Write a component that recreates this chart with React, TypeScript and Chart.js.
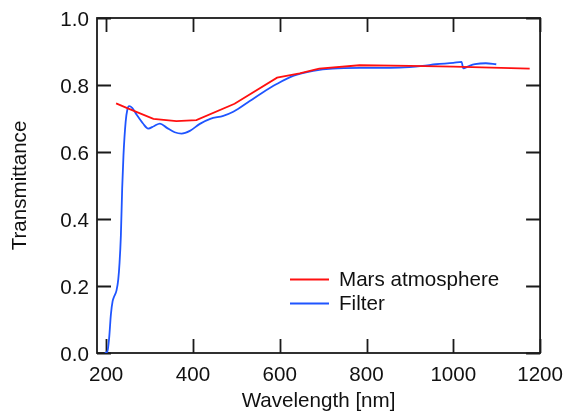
import React, { useEffect, useRef } from "react";
import { Chart, registerables } from "chart.js";

Chart.register(...registerables);

const marsWavelength = [223, 250, 309, 362, 408, 496, 594, 646, 691, 784, 900, 1000, 1176];
const marsTransmittance = [0.745, 0.730, 0.699, 0.692, 0.695, 0.744, 0.822, 0.835, 0.849, 0.859, 0.857, 0.855, 0.849];

const filterWavelength = [197, 203, 207, 211, 215, 219, 224, 228, 231, 234, 237, 240, 245, 249, 253, 260, 270, 285, 297, 310, 324, 340, 358, 374, 393, 416, 440, 470, 493, 531, 560, 592, 631, 677, 722, 800, 876, 929, 960, 1000, 1019, 1023, 1035, 1050, 1075, 1099];
const filterTransmittance = [0.0, 0.005, 0.045, 0.115, 0.155, 0.17, 0.187, 0.22, 0.27, 0.35, 0.49, 0.59, 0.69, 0.727, 0.737, 0.732, 0.712, 0.685, 0.670, 0.677, 0.685, 0.672, 0.659, 0.655, 0.663, 0.684, 0.699, 0.708, 0.720, 0.752, 0.777, 0.802, 0.827, 0.842, 0.849, 0.851, 0.852, 0.857, 0.862, 0.866, 0.869, 0.850, 0.856, 0.862, 0.865, 0.862];

const xTicks = [200, 400, 600, 800, 1000, 1200];
const yTicks = [0.0, 0.2, 0.4, 0.6, 0.8, 1.0];

const seriesNames = ["Mars atmosphere", "Filter"];
const seriesColors = ["#ff1010", "#1f55ff"];

const FONT = "'Liberation Sans', Arial, sans-serif";
const FS = 20.6;

export default function App() {
  const ref = useRef<HTMLCanvasElement | null>(null);

  useEffect(() => {
    if (!ref.current) return;
    const framePlugin = {
      id: "frame",
      beforeDatasetsDraw(chart: any) {
        const { ctx, chartArea } = chart;
        const xs = chart.scales.x;
        const ys = chart.scales.y;
        const L = 14;
        ctx.save();
        ctx.strokeStyle = "#1a1a1a";
        ctx.lineWidth = 1.8;
        ctx.strokeRect(chartArea.left, chartArea.top, chartArea.right - chartArea.left, chartArea.bottom - chartArea.top);
        ctx.beginPath();
        xTicks.forEach((v) => {
          const px = Math.round(xs.getPixelForValue(v)) + 0.5;
          ctx.moveTo(px, chartArea.bottom);
          ctx.lineTo(px, chartArea.bottom - L);
          ctx.moveTo(px, chartArea.top);
          ctx.lineTo(px, chartArea.top + L);
        });
        yTicks.forEach((v) => {
          const py = Math.round(ys.getPixelForValue(v)) + 0.5;
          ctx.moveTo(chartArea.left, py);
          ctx.lineTo(chartArea.left + L, py);
          ctx.moveTo(chartArea.right, py);
          ctx.lineTo(chartArea.right - L, py);
        });
        ctx.stroke();
        ctx.restore();
      },
      afterDraw(chart: any) {
        const { ctx, chartArea } = chart;
        ctx.save();
        const x0 = chartArea.left + 193;
        const y0 = chartArea.top + 261;
        ctx.font = `${FS}px ${FONT}`;
        ctx.textBaseline = "middle";
        ctx.textAlign = "left";
        seriesNames.forEach((name, i) => {
          const y = y0 + i * 24;
          ctx.strokeStyle = seriesColors[i];
          ctx.lineWidth = 1.8;
          ctx.beginPath();
          ctx.moveTo(x0, y + 0.5);
          ctx.lineTo(x0 + 39, y + 0.5);
          ctx.stroke();
          ctx.fillStyle = "#111";
          ctx.fillText(name, x0 + 49, y + 1);
        });
        ctx.restore();
      },
    };

    const chart = new Chart(ref.current, {
      type: "line",
      data: {
        datasets: [
          {
            label: seriesNames[0],
            data: marsWavelength.map((x, i) => ({ x, y: marsTransmittance[i] })),
            borderColor: seriesColors[0],
            borderWidth: 1.8,
            pointRadius: 0,
            tension: 0,
            fill: false,
          },
          {
            label: seriesNames[1],
            data: filterWavelength.map((x, i) => ({ x, y: filterTransmittance[i] })),
            borderColor: seriesColors[1],
            borderWidth: 1.8,
            pointRadius: 0,
            cubicInterpolationMode: "monotone",
            fill: false,
          },
        ],
      },
      options: {
        animation: false,
        responsive: false,
        maintainAspectRatio: false,
        layout: { padding: { left: 0, top: 18, right: 23, bottom: 0 } },
        plugins: { legend: { display: false }, tooltip: { enabled: false } },
        scales: {
          x: {
            type: "linear",
            min: 179,
            max: 1200,
            grid: { display: false },
            border: { display: false },
            afterBuildTicks: (s: any) => {
              s.ticks = xTicks.map((v) => ({ value: v }));
            },
            afterFit: (s: any) => {
              s.height = 61;
            },
            ticks: {
              padding: 2,
              color: "#111",
              font: { family: FONT, size: FS },
              maxRotation: 0,
              autoSkip: false,
              callback: (v: any) => String(v),
            },
            title: {
              display: true,
              text: "Wavelength [nm]",
              color: "#111",
              font: { family: FONT, size: FS },
              padding: { top: 0, bottom: 0 },
            },
          },
          y: {
            type: "linear",
            min: 0,
            max: 1.0,
            grid: { display: false },
            border: { display: false },
            afterBuildTicks: (s: any) => {
              s.ticks = yTicks.map((v) => ({ value: v }));
            },
            afterFit: (s: any) => {
              s.width = 97;
            },
            ticks: {
              padding: 0,
              labelOffset: 2,
              color: "#111",
              font: { family: FONT, size: FS },
              autoSkip: false,
              callback: (v: any) => Number(v).toFixed(1),
            },
            title: {
              display: true,
              text: "Transmittance",
              color: "#111",
              font: { family: FONT, size: FS },
              padding: { top: 8, bottom: 0 },
            },
          },
        },
      },
      plugins: [framePlugin],
    });
    return () => chart.destroy();
  }, []);

  return (
    <div style={{ position: "fixed", left: 0, top: 0, width: 565, height: 414, background: "#fff" }}>
      <canvas ref={ref} width={565} height={414} style={{ width: 565, height: 414, display: "block" }} />
    </div>
  );
}
